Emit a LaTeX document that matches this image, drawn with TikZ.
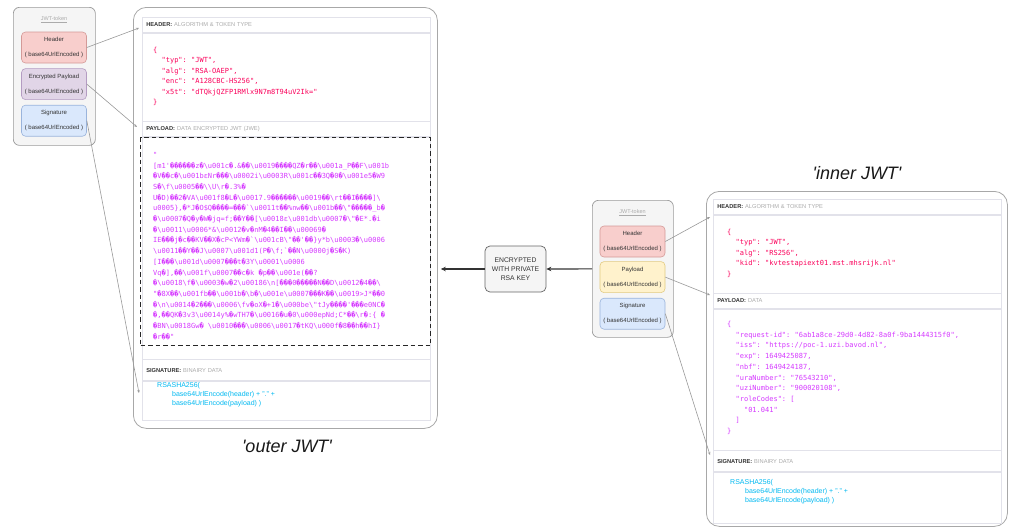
\documentclass[tikz,border=0pt]{standalone}
\usepackage{fontspec}
\setmainfont{Liberation Sans}
\setmonofont{DejaVu Sans Mono}
\usepackage{tikz}
\usetikzlibrary{positioning,arrows.meta}

\definecolor{hdrpink}{HTML}{FB015B}
\definecolor{paypurple}{HTML}{D63AFF}
\definecolor{sigblue}{HTML}{00B9F1}
\definecolor{secline}{HTML}{E2E2EA}
\definecolor{jwtline}{HTML}{A8A8A8}
\definecolor{lblgray}{HTML}{ABABAB}
\definecolor{lbldark}{HTML}{333333}
\definecolor{tokfill}{HTML}{F5F5F5}
\definecolor{tokline}{HTML}{9A9A9A}
\definecolor{redfill}{HTML}{F8CECC}
\definecolor{redline}{HTML}{D49A98}
\definecolor{purfill}{HTML}{E1D5E7}
\definecolor{purline}{HTML}{B49CC2}
\definecolor{bluefill}{HTML}{DAE8FC}
\definecolor{blueline}{HTML}{9AB4DC}
\definecolor{yelfill}{HTML}{FFF2CC}
\definecolor{yelline}{HTML}{E2CB82}

\newcommand\ux[1]{\textbackslash u#1}
\newcommand\bsl{\textbackslash}

\tikzset{
  tokbox/.style={draw=tokline, fill=tokfill, rounded corners=6pt, line width=0.7pt},
  toktitle/.style={font=\fontsize{5.5}{6}\selectfont, text=lblgray},
  part/.style={rounded corners=4pt, line width=0.6pt, minimum width=62, minimum height=31,
    align=center, font=\fontsize{6}{15}\selectfont, text=lbldark},
  jwtbox/.style={draw=jwtline, fill=white, rounded corners=13pt, line width=0.8pt},
  secbar/.style={draw=secline, fill=white, line width=0.6pt, inner xsep=4pt, text width=280pt,
    minimum height=15, align=left, font=\fontsize{5.7}{6}\selectfont, text=lblgray},
  secbody/.style={draw=secline, line width=0.6pt, minimum width=288},
  dashbox/.style={draw=black!85, line width=1.4pt, dash pattern=on 4.5pt off 3pt},
  jsonhdr/.style={font=\ttfamily\fontsize{7}{10.4}\selectfont, text=hdrpink, align=left, inner sep=0pt},
  jsonpay/.style={font=\ttfamily\fontsize{7}{10.7}\selectfont, text=paypurple, align=left, inner sep=0pt},
  sigtxt/.style={font=\fontsize{7}{9.3}\selectfont, text=sigblue, align=left, inner sep=0pt},
  encbox/.style={draw=black!60, fill=tokfill, rounded corners=5pt, line width=0.7pt, minimum width=61,
    minimum height=46, align=center, font=\fontsize{6.8}{9}\selectfont, text=lbldark},
  jwtlabel/.style={font=\fontsize{18}{20}\selectfont\itshape, text=black!90},
  link/.style={draw=black!40, line width=0.6pt, -{Stealth[length=3pt,width=2.5pt]}},
  flow/.style={draw=black!80, line width=1.2pt, -{Stealth[length=5pt,width=4.5pt]}}
}

\begin{document}
\begin{tikzpicture}[x=1pt, y=-1pt]
\useasboundingbox (0,0) rectangle (1010,528);

% JWT-token (encrypted)
\node [tokbox, minimum width=82, minimum height=138, anchor=north west] (tok1) at (13,7) {};
\node [toktitle] (tokttl1) at (54,20) {\underline{JWT-token}};
\node [part, fill=redfill, draw=redline] (hdr1) at (54,47.5) {Header\\( base64UrlEncoded )};
\node [part, fill=purfill, draw=purline, below=5pt of hdr1] (pay1) {Encrypted Payload\\( base64UrlEncoded )};
\node [part, fill=bluefill, draw=blueline, below=5pt of pay1] (sig1) {Signature\\( base64UrlEncoded )};

% outer JWT
\node [jwtbox, minimum width=304, minimum height=421, anchor=north west] (outer) at (133,7) {};
\node [secbar, anchor=north west] (hdrbar1) at (142,17) {\textbf{\color{lbldark}HEADER:} ALGORITHM \& TOKEN TYPE};
\node [secbody, minimum height=88, below=0pt of hdrbar1] (hdrbody1) {};
\node [secbar, below=0pt of hdrbody1] (paybar1) {\textbf{\color{lbldark}PAYLOAD:} DATA ENCRYPTED JWT (JWE)};
\node [secbody, minimum height=222, below=0pt of paybar1] (paybody1) {};
\node [dashbox, minimum width=290, minimum height=208, anchor=north west] (jwe) at (140,137) {};
\node [secbar, minimum height=21, below=0pt of paybody1] (sigbar1) {\textbf{\color{lbldark}SIGNATURE:} BINAIRY DATA};
\node [secbody, minimum height=39, below=0pt of sigbar1] (sigbody1) {};

\node [jsonhdr, anchor=north west] (hdrjson1) at (153,47) {\{\\
~~"typ": "JWT",\\
~~"alg": "RSA-OAEP",\\
~~"enc": "A128CBC-HS256",\\
~~"x5t": "dTQkjQZFP1RMlx9N7m8T94uV2Ik="\\
\}};

\node [jsonpay, anchor=north west] (jwetext) at (153,152) {"\\
{}[m1'������z�\ux{001c}�.\&��\ux{0019}����QZ�r��\ux{001a}\_P��F\ux{001b}\\
�V��c�\ux{001b}εNr���\ux{0002}i\ux{0003}R\ux{001c}��3Q�0�\ux{001e}5�W9\\
S�\bsl f\ux{0005}��\bsl\bsl U\bsl r�.3\%�\\
U�D)��2�VA\ux{001f}8�L�\ux{0017}.9������\ux{0019}��\bsl rt��I����]\bsl\\
u0005\},�*J�O\$Q����=���`\ux{0011}t��\%nw��\ux{001b}��\bsl"�����\_b�\\
�\ux{0007}�Q�y�W�jq=f;��Y��[\ux{0018}ε\ux{001d}b\ux{0007}�\bsl"�E*.�i\\
�\ux{0011}\ux{0006}*\&\ux{0012}�v�nM�4��I��\ux{0006}9�\\
IE���j�c��KV��X�cP<YWm�`\ux{001c}B\bsl"��'��\}y*b\ux{0003}�\ux{0006}\\
\ux{0011}��Y��J\ux{0007}\ux{001d}1(P�\bsl f;`��N\ux{0000}j�S�K)\\
{}[I���\ux{001d}\ux{0007}���t�3Y\ux{0001}\ux{0006}\\
Vq�],��\ux{001f}\ux{0007}��c�k �p��\ux{001e}(��?\\
�\ux{0018}\bsl f�\ux{0003}�w�2\ux{0018}6\bsl n[���0�����N��D\ux{0012}�4��\bsl\\
"�8X��\ux{001f}b��\ux{001b}�\bsl b�\ux{001e}\ux{0007}���K��\ux{0019}>J*��0\\
�\bsl n\ux{0014}�2���\ux{0006}\bsl fv�oX�+1�\ux{000b}e\bsl"tJy����'���e0NC�\\
�,��QK�3v3\ux{0014}y\%�wTH7�\ux{0016}�u�0\ux{000e}pNd;C*��\bsl r�:\{ �\\
�BN\ux{0018}Gw� \ux{0010}���\ux{0006}\ux{0017}�tKQ\ux{000f}�8��h��hI\}\\
�r��"};

\node [sigtxt, anchor=north west] (sigtext1) at (157,382) {RSASHA256(\\
\hspace*{15pt}base64UrlEncode(header) + "." +\\
\hspace*{15pt}base64UrlEncode(payload) )};

\node [jwtlabel] (outerlbl) at (287,446) {\textquotesingle outer JWT\textquotesingle};

% encryption step
\node [encbox] (enc) at (515.5,269) {ENCRYPTED\\WITH PRIVATE\\RSA KEY};

% JWT-token (signed)
\node [tokbox, minimum width=81, minimum height=137, anchor=north west] (tok2) at (592,200) {};
\node [toktitle] (tokttl2) at (632.5,213) {\underline{JWT-token}};
\node [part, fill=redfill, draw=redline] (hdr2) at (632.5,241.5) {Header\\( base64UrlEncoded )};
\node [part, fill=yelfill, draw=yelline, below=4pt of hdr2] (pay2) {Payload\\( base64UrlEncoded )};
\node [part, fill=bluefill, draw=blueline, below=5pt of pay2] (sig2) {Signature\\( base64UrlEncoded )};

% inner JWT
\node [jwtlabel] (innerlbl) at (857,173) {\textquotesingle inner JWT\textquotesingle};
\node [jwtbox, minimum width=301, minimum height=335, anchor=north west] (inner) at (706,191) {};
\node [secbar, anchor=north west] (hdrbar2) at (713,199) {\textbf{\color{lbldark}HEADER:} ALGORITHM \& TOKEN TYPE};
\node [secbody, minimum height=78, below=0pt of hdrbar2] (hdrbody2) {};
\node [secbar, below=0pt of hdrbody2] (paybar2) {\textbf{\color{lbldark}PAYLOAD:} DATA};
\node [secbody, minimum height=141, below=0pt of paybar2] (paybody2) {};
\node [secbar, minimum height=21, below=0pt of paybody2] (sigbar2) {\textbf{\color{lbldark}SIGNATURE:} BINAIRY DATA};
\node [secbody, minimum height=51, below=0pt of sigbar2] (sigbody2) {};

\node [jsonhdr, anchor=north west] (hdrjson2) at (727,229) {\{\\
~~"typ": "JWT",\\
~~"alg": "RS256",\\
~~"kid": "kvtestapiext01.mst.mhsrijk.nl"\\
\}};

\node [jsonpay, anchor=north west] (payjson2) at (727,321) {\{\\
~~"request-id": "6ab1a8ce-29d0-4d82-8a0f-9ba1444315f0",\\
~~"iss": "https://poc-1.uzi.bavod.nl",\\
~~"exp": 1649425087,\\
~~"nbf": 1649424187,\\
~~"uraNumber": "76543210",\\
~~"uziNumber": "900020108",\\
~~"roleCodes": [\\
~~~~"01.041"\\
~~]\\
\}};

\node [sigtxt, anchor=north west] (sigtext2) at (730,479) {RSASHA256(\\
\hspace*{15pt}base64UrlEncode(header) + "." +\\
\hspace*{15pt}base64UrlEncode(payload) )};

% connections
\coordinate (hdrin1) at (139,28);
\coordinate (payin1) at (137,127);
\coordinate (sigin1) at (139,393);
\coordinate (hdrin2) at (710,217);
\coordinate (payin2) at (710,295);
\coordinate (sigin2) at (710,455);
\draw [link] (hdr1.east) -- (hdrin1);
\draw [link] (pay1.east) -- (payin1);
\draw [link] (sig1.east) -- (sigin1);
\draw [link] (hdr2.east) -- (hdrin2);
\draw [link] (pay2.east) -- (payin2);
\draw [link] (sig2.east) -- (sigin2);

\draw [flow] (tok2.west) -- (enc.east);
\draw [flow, shorten >=3pt] (enc.west) -- (enc.west -| outer.east);
\end{tikzpicture}
\end{document}
